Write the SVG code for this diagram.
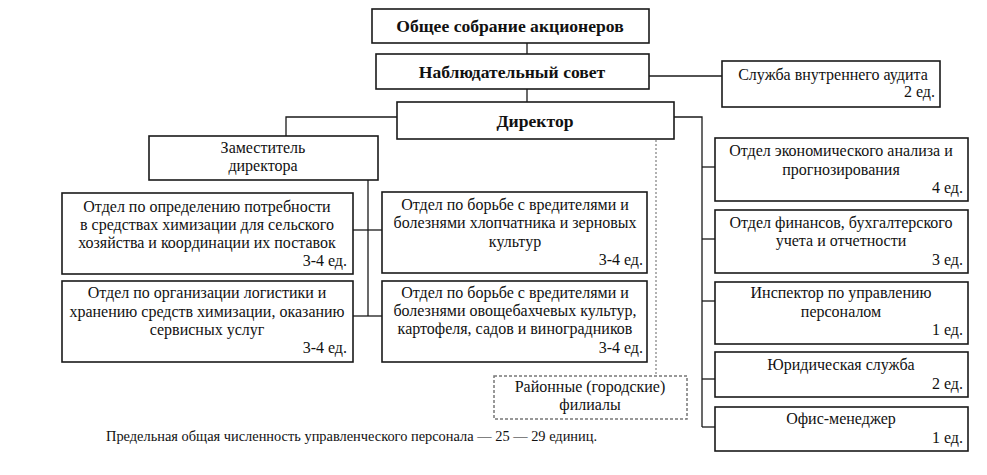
<svg xmlns="http://www.w3.org/2000/svg" width="987" height="475" viewBox="0 0 987 475">
<style>
.box{fill:#fff;stroke:#1a1a1a;stroke-width:1.6}
.dbox{fill:#fff;stroke:#777;stroke-width:1.5;stroke-dasharray:3 2}
.ln{fill:none;stroke:#1a1a1a;stroke-width:1.3}
.dl{fill:none;stroke:#888;stroke-width:1.3;stroke-dasharray:2 2}
text{font-family:'Liberation Serif','DejaVu Serif',serif;fill:#111}
.t{font-size:16px;text-anchor:middle}
.r{font-size:16px;text-anchor:end}
.b{font-size:17.6px;font-weight:bold;text-anchor:middle}
.f{font-size:14.4px}
</style>
<rect width="987" height="475" fill="#fff"/>
<g id="connectors">
<line class="ln" x1="527" y1="43" x2="527" y2="54"/>
<line class="ln" x1="527" y1="89" x2="527" y2="102"/>
<line class="ln" x1="649" y1="76" x2="722" y2="76"/>
<polyline class="ln" points="397,117 286,117 286,136"/>
<polyline class="ln" points="674,117 702,117 702,427"/>
<line class="ln" x1="702" y1="167" x2="715" y2="167"/>
<line class="ln" x1="702" y1="239" x2="715" y2="239"/>
<line class="ln" x1="702" y1="301" x2="715" y2="301"/>
<line class="ln" x1="702" y1="379" x2="715" y2="379"/>
<line class="ln" x1="702" y1="427" x2="715" y2="427"/>
<line class="ln" x1="368" y1="180" x2="368" y2="316"/>
<line class="ln" x1="353" y1="230" x2="382" y2="230"/>
<line class="ln" x1="353" y1="316" x2="382" y2="316"/>
<line class="dl" x1="656" y1="140" x2="656" y2="376"/>
</g>
<g font-family="Liberation Serif, DejaVu Serif, serif">
<g id="n-sobranie">
<rect class="box" x="372" y="9" width="277" height="34"/>
<text class="b" x="510" y="32">Общее собрание акционеров</text>
</g>
<g id="n-sovet">
<rect class="box" x="376" y="54" width="273" height="35"/>
<text class="b" x="512" y="78">Наблюдательный совет</text>
</g>
<g id="n-direktor">
<rect class="box" x="397" y="102" width="277" height="37"/>
<text class="b" x="535" y="127">Директор</text>
</g>
<g id="n-audit">
<rect class="box" x="722" y="61" width="218" height="46"/>
<text class="t" x="833" y="80">Служба внутреннего аудита</text>
<text class="r" x="935" y="97">2 ед.</text>
</g>
<g id="n-zam">
<rect class="box" x="149" y="136" width="229" height="44"/>
<text class="t" x="263" y="153">Заместитель</text>
<text class="t" x="263" y="171">директора</text>
</g>
<g id="n-potrebnost">
<rect class="box" x="62" y="193" width="291" height="81"/>
<text class="t" x="207" y="212">Отдел по определению потребности</text>
<text class="t" x="207" y="230">в средствах химизации для сельского</text>
<text class="t" x="207" y="248">хозяйства и координации их поставок</text>
<text class="r" x="347" y="266">3-4 ед.</text>
</g>
<g id="n-logistika">
<rect class="box" x="62" y="281" width="291" height="81"/>
<text class="t" x="207" y="298">Отдел по организации логистики и</text>
<text class="t" x="207" y="317">хранению средств химизации, оказанию</text>
<text class="t" x="207" y="335">сервисных услуг</text>
<text class="r" x="347" y="353">3-4 ед.</text>
</g>
<g id="n-hlopok">
<rect class="box" x="382" y="192" width="265" height="81"/>
<text class="t" x="515" y="210">Отдел по борьбе с вредителями и</text>
<text class="t" x="515" y="228">болезнями хлопчатника и зерновых</text>
<text class="t" x="515" y="247">культур</text>
<text class="r" x="643" y="265">3-4 ед.</text>
</g>
<g id="n-ovoschi">
<rect class="box" x="382" y="281" width="265" height="81"/>
<text class="t" x="515" y="298">Отдел по борьбе с вредителями и</text>
<text class="t" x="515" y="316">болезнями овощебахчевых культур,</text>
<text class="t" x="515" y="334">картофеля, садов и виноградников</text>
<text class="r" x="643" y="353">3-4 ед.</text>
</g>
<g id="n-filialy">
<rect class="dbox" x="494" y="376" width="193" height="43"/>
<text class="t" x="590" y="392">Районные (городские)</text>
<text class="t" x="590" y="410">филиалы</text>
</g>
<g id="n-ekonom">
<rect class="box" x="715" y="138" width="253" height="63"/>
<text class="t" x="841" y="156">Отдел экономического анализа и</text>
<text class="t" x="841" y="175">прогнозирования</text>
<text class="r" x="963" y="193">4 ед.</text>
</g>
<g id="n-finansy">
<rect class="box" x="715" y="210" width="253" height="63"/>
<text class="t" x="841" y="228">Отдел финансов, бухгалтерского</text>
<text class="t" x="841" y="246">учета и отчетности</text>
<text class="r" x="963" y="265">3 ед.</text>
</g>
<g id="n-inspektor">
<rect class="box" x="715" y="282" width="253" height="62"/>
<text class="t" x="841" y="298">Инспектор по управлению</text>
<text class="t" x="841" y="317">персоналом</text>
<text class="r" x="963" y="335">1 ед.</text>
</g>
<g id="n-yurist">
<rect class="box" x="715" y="352" width="253" height="45"/>
<text class="t" x="841" y="370">Юридическая служба</text>
<text class="r" x="963" y="389">2 ед.</text>
</g>
<g id="n-ofis">
<rect class="box" x="715" y="407" width="253" height="44"/>
<text class="t" x="841" y="424">Офис-менеджер</text>
<text class="r" x="963" y="443">1 ед.</text>
</g>
<text class="f" x="106" y="441">Предельная общая численность управленческого персонала — 25 — 29 единиц.</text>
</g>
</svg>
